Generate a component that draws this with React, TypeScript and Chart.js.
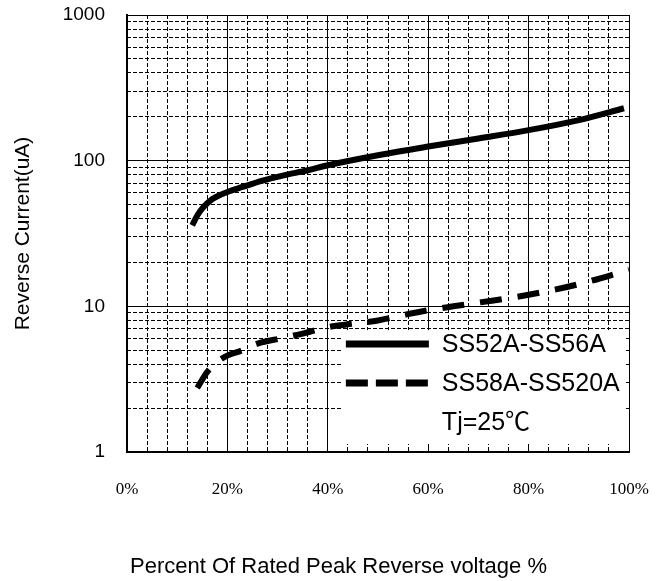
import React, { useEffect, useRef } from "react";
import { Chart, registerables } from "chart.js";

Chart.register(...registerables);

// Series SS52A-SS56A (solid)
const solidX = [13, 14, 15, 16, 17, 18, 20, 23, 27, 31, 36, 40, 50, 60, 70, 80, 90, 99];
const solidY = [36, 42, 47, 51, 54.5, 57, 61, 66, 73, 79, 86, 93, 109, 125, 142, 162, 190, 229];

// Series SS58A-SS520A (dashed)
const dashX = [14, 16, 19, 23, 26, 31, 35, 40, 45, 50, 55, 60, 65, 70, 80, 90, 100];
const dashY = [2.75, 3.55, 4.4, 5.0, 5.55, 6.05, 6.5, 7.2, 7.6, 8.0, 8.7, 9.4, 10.0, 10.6, 12.0, 14.2, 17.8];

const seriesLabels = ["SS52A-SS56A", "SS58A-SS520A"];
const noteText = "Tj=25℃";

const xMajorTicks = [0, 20, 40, 60, 80, 100];
const xMinorTicks = [4, 8, 12, 16, 24, 28, 32, 36, 44, 48, 52, 56, 64, 68, 72, 76, 84, 88, 92, 96];
const yMajorTicks = [1, 10, 100, 1000];
const yMinorTicks = [2, 3, 4, 5, 6, 7, 8, 9, 20, 30, 40, 50, 60, 70, 80, 90, 200, 300, 400, 500, 600, 700, 800, 900];

const xTitle = "Percent Of Rated Peak Reverse voltage %";
const yTitle = "Reverse Current(uA)";

const SANS = '"Liberation Sans", Arial, sans-serif';
const SERIF = '"Liberation Serif", "Times New Roman", serif';

const insideLegend = {
  id: "insideLegend",
  beforeDatasetsDraw(chart: any) {
    const { ctx, chartArea: ca } = chart;
    const w = ca.right - ca.left;
    const h = ca.bottom - ca.top;
    const left = ca.left + 0.43 * w;
    const right = ca.right - 3;
    const top = ca.top + 0.721 * h;
    const bottom = ca.bottom - 8;
    ctx.save();
    ctx.fillStyle = "#ffffff";
    ctx.fillRect(left, top, right - left, bottom - top);
    const rows = [top + 14, top + 53, top + 93];
    ctx.font = `25px ${SANS}`;
    ctx.textBaseline = "middle";
    ctx.textAlign = "left";
    chart.data.datasets.forEach((ds: any, i: number) => {
      ctx.beginPath();
      ctx.setLineDash(ds.borderDash && ds.borderDash.length ? [22, 8] : []);
      ctx.lineWidth = 7;
      ctx.strokeStyle = "#000";
      ctx.lineCap = "butt";
      ctx.moveTo(left + 3, rows[i]);
      ctx.lineTo(left + 86, rows[i]);
      ctx.stroke();
      ctx.fillStyle = "#000";
      ctx.fillText(ds.label, left + 99, rows[i] + 1);
    });
    ctx.fillStyle = "#000";
    ctx.font = `25px ${SANS}, "Noto Sans CJK SC"`;
    ctx.fillText(noteText, left + 99, rows[2]);
    ctx.restore();
  },
};

// x-axis title centred on the page (as in the reference), below the tick labels
const pageXTitle = {
  id: "pageXTitle",
  afterDraw(chart: any) {
    const { ctx } = chart;
    ctx.save();
    ctx.fillStyle = "#000";
    ctx.font = `22px ${SANS}`;
    ctx.textAlign = "center";
    ctx.textBaseline = "middle";
    ctx.fillText(xTitle, chart.width / 2 + 5, chart.height - 14);
    ctx.restore();
  },
};

export default function App() {
  const ref = useRef<HTMLCanvasElement>(null);
  useEffect(() => {
    if (!ref.current) return;
    const chart = new Chart(ref.current, {
      type: "line",
      data: {
        datasets: [
          {
            label: seriesLabels[0],
            data: solidX.map((x, i) => ({ x, y: solidY[i] })),
            borderColor: "#000",
            borderWidth: 6,
            pointRadius: 0,
            cubicInterpolationMode: "monotone",
            borderCapStyle: "butt",
            fill: false,
          },
          {
            label: seriesLabels[1],
            data: dashX.map((x, i) => ({ x, y: dashY[i] })),
            borderColor: "#000",
            borderWidth: 6,
            borderDash: [22, 16],
            pointRadius: 0,
            cubicInterpolationMode: "monotone",
            borderCapStyle: "butt",
            fill: false,
          },
        ],
      },
      options: {
        animation: false,
        responsive: true,
        maintainAspectRatio: false,
        devicePixelRatio: 1,
        layout: { padding: { top: 15, right: 38, left: 0, bottom: 0 } },
        plugins: { legend: { display: false }, tooltip: { enabled: false } },
        scales: {
          x: {
            type: "linear",
            position: "bottom",
            min: 0,
            max: 100,
            afterBuildTicks: (s: any) => {
              s.ticks = xMajorTicks.map((v) => ({ value: v }));
            },
            afterFit: (s: any) => {
              s.height = 129;
              s.paddingLeft = 0;
              s.paddingRight = 0;
            },
            ticks: {
              padding: 27,
              color: "#000",
              font: { family: SERIF, size: 17 },
              callback: (v: any) => `${v}%`,
              maxRotation: 0,
            },
            grid: { color: "#000", lineWidth: 1, drawTicks: false },
            border: { color: "#000", width: 2 },
            title: { display: false },
          },
          x2: {
            type: "linear",
            position: "bottom",
            min: 0,
            max: 100,
            afterBuildTicks: (s: any) => {
              s.ticks = xMinorTicks.map((v) => ({ value: v }));
            },
            ticks: { display: false },
            grid: { color: "#000", lineWidth: 1, drawTicks: false },
            border: { display: false, dash: [4, 2] },
          },
          y: {
            type: "logarithmic",
            position: "left",
            min: 1,
            max: 1000,
            afterBuildTicks: (s: any) => {
              s.ticks = yMajorTicks.map((v) => ({ value: v }));
            },
            afterFit: (s: any) => {
              s.width = 127;
              s.paddingTop = 0;
              s.paddingBottom = 0;
            },
            ticks: {
              padding: 22,
              color: "#000",
              font: { family: SANS, size: 19 },
              callback: (v: any) => String(v),
            },
            grid: { color: "#000", lineWidth: 1, drawTicks: false },
            border: { color: "#000", width: 2 },
            title: {
              display: true,
              text: yTitle,
              color: "#000",
              font: { family: SANS, size: 21 },
              padding: { top: 11, bottom: 0 },
            },
          },
          y2: {
            type: "logarithmic",
            position: "left",
            min: 1,
            max: 1000,
            afterBuildTicks: (s: any) => {
              s.ticks = yMinorTicks.map((v) => ({ value: v }));
            },
            ticks: { display: false },
            grid: { color: "#000", lineWidth: 1, drawTicks: false },
            border: { display: false, dash: [4, 2] },
          },
        },
      } as any,
      plugins: [insideLegend, pageXTitle],
    });
    return () => chart.destroy();
  }, []);
  return (
    <div style={{ position: "absolute", left: 0, top: 0, width: 667, height: 581, background: "#fff" }}>
      <canvas ref={ref} />
    </div>
  );
}
